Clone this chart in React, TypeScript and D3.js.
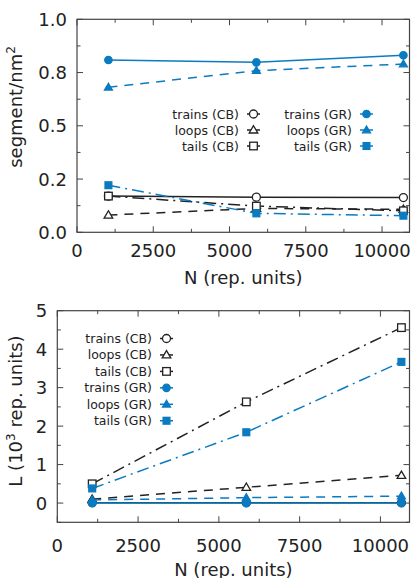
import React from 'react';
import * as d3 from 'd3';

// x positions (rep. units) of the three chain lengths, per panel
const topN = [1030, 5880, 10700];
const botN = [1080, 5850, 10650];

// top panel: segment / nm^2
const topTrainsCB = [0.170, 0.165, 0.163];
const topLoopsCB = [0.081, 0.112, 0.108];
const topTailsCB = [0.170, 0.123, 0.101];
const topTrainsGR = [0.809, 0.798, 0.831];
const topLoopsGR = [0.681, 0.759, 0.790];
const topTailsGR = [0.221, 0.089, 0.078];

// bottom panel: L (10^3 rep. units)
const botTrainsCB = [0.01, 0.01, 0.01];
const botLoopsCB = [0.10, 0.41, 0.72];
const botTailsCB = [0.50, 2.63, 4.56];
const botTrainsGR = [0.0, 0.0, 0.0];
const botLoopsGR = [0.08, 0.14, 0.18];
const botTailsGR = [0.38, 1.84, 3.67];

const seriesNames = ['trains (CB)', 'loops (CB)', 'tails (CB)', 'trains (GR)', 'loops (GR)', 'tails (GR)'];
const xTicks = [0, 2500, 5000, 7500, 10000];
const topYTicks = [0, 0.25, 0.5, 0.75, 1.0];
const topYLabels = ['0.0', '0.2', '0.5', '0.8', '1.0'];
const botYTicks = [0, 1, 2, 3, 4, 5];
const botYLabels = ['0', '1', '2', '3', '4', '5'];

const BLACK = '#222';
const BLUE = '#0b7bc1';
const FONT = 'DejaVu Sans, sans-serif';

const dashFor = (kind: string) =>
  kind === 'trains' ? undefined : kind === 'loops' ? '9,7' : '12,5,2,5';

function Marker({ kind, filled, x, y, color }: any) {
  const fill = filled ? color : 'white';
  const sw = 1.3;
  if (kind === 'trains') {
    return <circle cx={x} cy={y} r={filled ? 3.7 : 4} fill={fill} stroke={color} strokeWidth={sw} />;
  }
  if (kind === 'loops') {
    const s = filled ? 4 : 4.3;
    const pts = `${x},${y - s} ${x - s},${y + s * 0.7} ${x + s},${y + s * 0.7}`;
    return <polygon points={pts} fill={fill} stroke={color} strokeWidth={sw} strokeLinejoin="miter" />;
  }
  const h = filled ? 3.4 : 3.8;
  return <rect x={x - h} y={y - h} width={2 * h} height={2 * h} fill={fill} stroke={color} strokeWidth={sw} />;
}

function Panel(props: any) {
  const { left, right, top, bottom, yDomain, yTicks, yLabels, yMinor, N, series, legend, yTitle, yTitleY, tickY, titleY } = props;
  const x = d3.scaleLinear().domain([0, 10900]).range([left, right]);
  const y = d3.scaleLinear().domain(yDomain).range([bottom, top]);
  const xMinor = d3.range(1250, 10900, 2500);
  const line = d3.line<number>().x((_, i) => x(N[i])).y(d => y(d));
  const maj = 6, min = 3.5;
  return (
    <g>
      {/* ticks, mirrored on all sides */}
      {xTicks.map(t => (
        <g key={'xt' + t}>
          <line x1={x(t)} x2={x(t)} y1={bottom} y2={bottom - maj} stroke="#444" />
          <line x1={x(t)} x2={x(t)} y1={top} y2={top + maj} stroke="#444" />
        </g>
      ))}
      {xMinor.map(t => (
        <g key={'xm' + t}>
          <line x1={x(t)} x2={x(t)} y1={bottom} y2={bottom - min} stroke="#444" />
          <line x1={x(t)} x2={x(t)} y1={top} y2={top + min} stroke="#444" />
        </g>
      ))}
      {yTicks.map((t: number) => (
        <g key={'yt' + t}>
          <line x1={left} x2={left + maj} y1={y(t)} y2={y(t)} stroke="#444" />
          <line x1={right} x2={right - maj} y1={y(t)} y2={y(t)} stroke="#444" />
        </g>
      ))}
      {yMinor.map((t: number) => (
        <g key={'ym' + t}>
          <line x1={left} x2={left + min} y1={y(t)} y2={y(t)} stroke="#444" />
          <line x1={right} x2={right - min} y1={y(t)} y2={y(t)} stroke="#444" />
        </g>
      ))}
      {/* series */}
      {series.map((s: any, k: number) => (
        <g key={'s' + k}>
          <path d={line(s.values) || ''} fill="none" stroke={s.color} strokeWidth={1.5} strokeDasharray={dashFor(s.kind)} />
          {s.values.map((v: number, i: number) => (
            <Marker key={i} kind={s.kind} filled={s.filled} color={s.color} x={x(N[i])} y={y(v)} />
          ))}
        </g>
      ))}
      <rect x={left} y={top} width={right - left} height={bottom - top} fill="none" stroke="#444" strokeWidth={1.2} />
      {/* tick labels */}
      {xTicks.map(t => (
        <text key={'xl' + t} x={x(t)} y={tickY} textAnchor="middle" fontSize={18} fill="#222">{t}</text>
      ))}
      {yTicks.map((t: number, i: number) => (
        <text key={'yl' + t} x={left - 10} y={y(t) + 6.5} textAnchor="end" fontSize={18} fill="#222">{yLabels[i]}</text>
      ))}
      <text x={(left + right) / 2} y={titleY} textAnchor="middle" fontSize={18} fill="#222">N (rep. units)</text>
      <text transform={`translate(${21.5},${yTitleY}) rotate(-90)`} textAnchor="middle" fontSize={18} fill="#222">{yTitle}</text>
      {/* legend */}
      {legend.map((l: any, k: number) => (
        <g key={'l' + k}>
          <text x={l.tx} y={l.ty + 4.5} textAnchor="end" fontSize={12.5} fill="#222">{seriesNames[l.idx]}</text>
          <line x1={l.tx + 8} x2={l.tx + 21} y1={l.ty} y2={l.ty} stroke={series[l.idx].color} strokeWidth={1.5} />
          <Marker kind={series[l.idx].kind} filled={series[l.idx].filled} color={series[l.idx].color} x={l.tx + 14.5} y={l.ty} />
        </g>
      ))}
    </g>
  );
}

const mk = (vals: number[][]) =>
  ['trains', 'loops', 'tails', 'trains', 'loops', 'tails'].map((kind, i) => ({
    kind,
    filled: i >= 3,
    color: i >= 3 ? BLUE : BLACK,
    values: vals[i],
  }));

export default function App() {
  const topSeries = mk([topTrainsCB, topLoopsCB, topTailsCB, topTrainsGR, topLoopsGR, topTailsGR]);
  const botSeries = mk([botTrainsCB, botLoopsCB, botTailsCB, botTrainsGR, botLoopsGR, botTailsGR]);
  const topLegend = [0, 1, 2, 3, 4, 5].map(i => ({
    idx: i,
    tx: i < 3 ? 239 : 352,
    ty: 114 + (i % 3) * 16,
  }));
  const botLegend = [0, 1, 2, 3, 4, 5].map(i => ({ idx: i, tx: 152, ty: 338.5 + i * 16.45 }));
  return (
    <svg width={414} height={578} style={{ position: 'absolute', left: 0, top: 0, background: 'white' }} fontFamily={FONT}>
      <Panel
        left={77} right={409.5} top={19.3} bottom={232.3}
        yDomain={[0, 1]} yTicks={topYTicks} yLabels={topYLabels} yMinor={d3.range(0.125, 1, 0.25)}
        N={topN} series={topSeries} legend={topLegend}
        yTitle={<>segment/nm<tspan dy={-7} fontSize={12}>2</tspan></>}
        yTitleY={107} tickY={256.5} titleY={283.5}
      />
      <Panel
        left={57.3} right={409.5} top={310.7} bottom={522.3}
        yDomain={[-0.5, 5]} yTicks={botYTicks} yLabels={botYLabels} yMinor={d3.range(-0.5, 5, 1)}
        N={botN} series={botSeries} legend={botLegend}
        yTitle={<>L (10<tspan dy={-7} fontSize={12}>3</tspan><tspan dy={7}> rep. units)</tspan></>}
        yTitleY={411} tickY={551.5} titleY={575.5}
      />
    </svg>
  );
}
